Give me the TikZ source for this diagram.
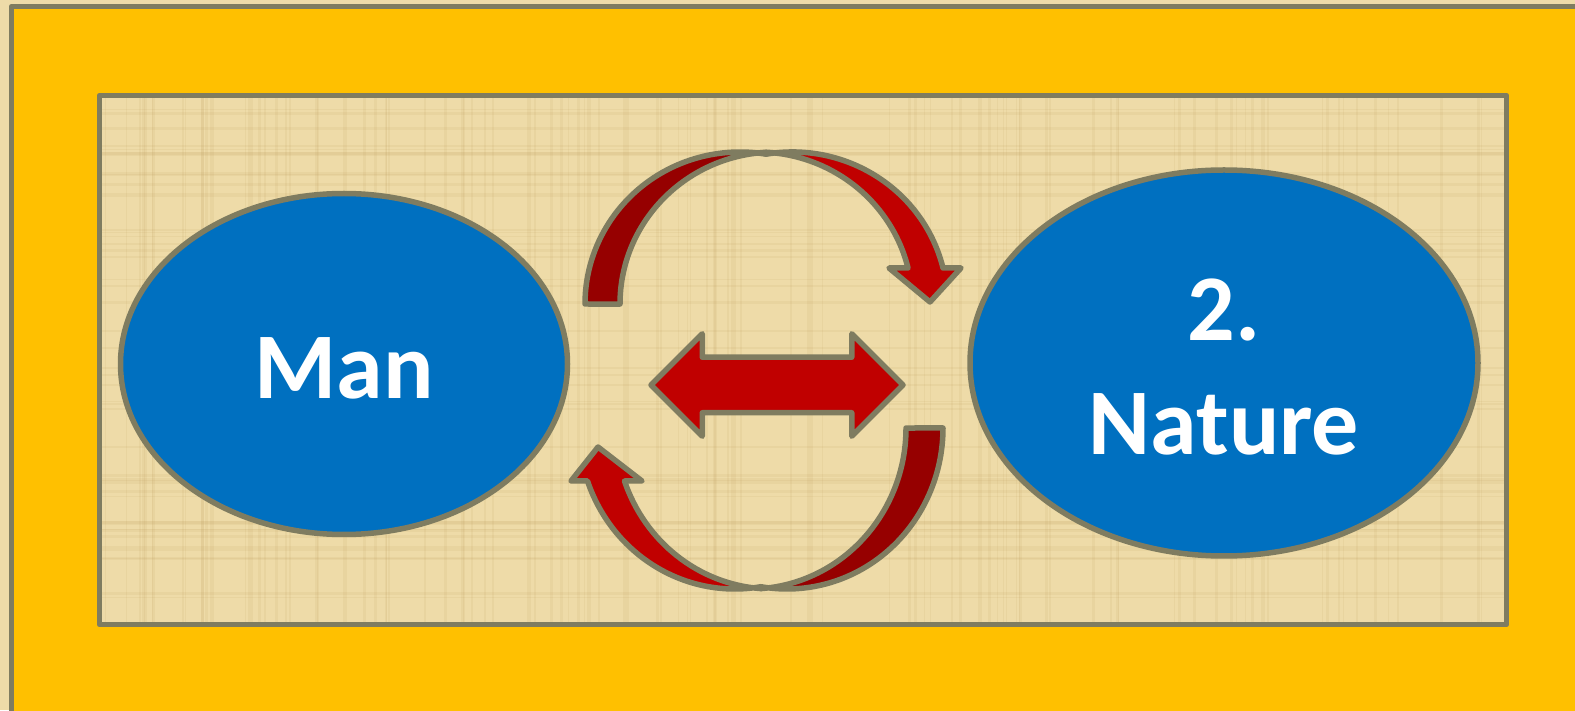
\documentclass[tikz,border=0pt]{standalone}
\usepackage{fontspec}
\setsansfont{Carlito}
\usetikzlibrary{shapes.geometric,shapes.arrows}

\definecolor{papyrus}{RGB}{238,219,168}
\definecolor{papyrusdark}{RGB}{196,165,104}
\definecolor{frameyellow}{RGB}{255,192,0}
\definecolor{bubbleblue}{RGB}{0,112,192}
\definecolor{arrowred}{RGB}{192,0,0}
\definecolor{arrowdark}{RGB}{150,0,0}
\definecolor{edgegray}{RGB}{127,124,96}

\begin{document}
\begin{tikzpicture}[
    x=1pt, y=1pt,
    edge/.style={draw=edgegray, line width=5.5pt, line join=round},
    streak/.style={draw=papyrusdark, opacity=0.13},
    bubble/.style={ellipse, edge, fill=bubbleblue, inner sep=0pt},
    caption/.style={text=white, align=center, inner sep=0pt,
        font=\sffamily\bfseries\fontsize{94}{114}\selectfont},
    front/.style={edge, fill=arrowred},
    back/.style={edge, fill=arrowdark},
    dblarrow/.style={double arrow, edge, fill=arrowred, double arrow tip angle=90,
        double arrow head extend=23.5pt, inner xsep=0pt, inner ysep=25pt, minimum height=252pt}
]
    \clip (0,0) rectangle (1575,710);
    \fill[papyrus] (0,0) rectangle (1575,710);

    % frame and panel
    \draw[edge, fill=frameyellow] (11.5,-20) rectangle (1600,703.5);
    \fill[papyrus] (99.5,85.5) rectangle (1506.5,614.5);
    \begin{scope}
        \clip (99.5,85.5) rectangle (1506.5,614.5);
        \pgfmathsetseed{7}
        \foreach \i in {1,...,110} {
            \pgfmathsetmacro{\px}{100+1400*rnd}
            \pgfmathsetmacro{\pw}{0.8+2.5*rnd}
            \draw[streak, line width=\pw pt] (\px,85) -- (\px,615);
        }
        \foreach \i in {1,...,50} {
            \pgfmathsetmacro{\py}{86+528*rnd}
            \pgfmathsetmacro{\pw}{0.8+2.5*rnd}
            \draw[streak, line width=\pw pt] (99,\py) -- (1507,\py);
        }
    \end{scope}
    \draw[edge] (99.5,85.5) rectangle (1506.5,614.5);

    \node[bubble, minimum width=447pt, minimum height=341pt] (man) at (344,346) {};
    \node[bubble, minimum width=508pt, minimum height=386pt] (nature) at (1224,347) {};
    \node[caption] (mantext) at ([yshift=-4pt]man.center) {Man};
    \node[caption] (naturetext) at ([yshift=-4pt]nature.center) {2.\\Nature};

    \node[dblarrow] (swap) at (777,325) {};

    % upper curved arrow
    \draw[back] (585,406) arc[start angle=180, end angle=80.34, x radius=155, y radius=152]
        -- (766,557.7) arc[start angle=93.33, end angle=180, x radius=155, y radius=152] -- cycle;
    \draw[front] (766,555.8) arc[start angle=99.81, end angle=13.7, x radius=155, y radius=152]
        -- (961,442) -- (930,408) -- (889,442) -- (908,442)
        arc[start angle=13.7, end angle=86.82, x radius=155, y radius=152] -- cycle;

    % lower curved arrow
    \draw[back] (943,282) arc[start angle=0, end angle=-99.59, x radius=156, y radius=161]
        -- (761,121.4) arc[start angle=-85.96, end angle=0, x radius=156, y radius=161] -- cycle;
    \draw[front] (761,123.3) arc[start angle=-80.33, end angle=-160.78, x radius=156, y radius=161]
        -- (571,229) -- (598,263) -- (642,229) -- (624.5,229)
        arc[start angle=-160.78, end angle=-93.97, x radius=156, y radius=161] -- cycle;
\end{tikzpicture}
\end{document}
